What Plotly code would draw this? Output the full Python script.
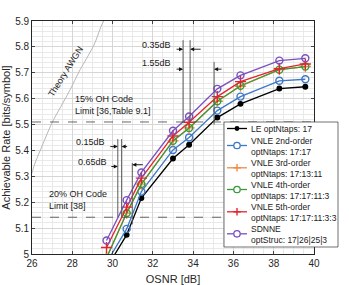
import plotly.graph_objects as go

# ---------------- data ----------------
osnr = [29.7, 30.7, 31.43, 33.0, 33.8, 35.2, 36.35, 38.28, 39.57]
le_rate = [4.946, 5.074, 5.216, 5.369, 5.422, 5.527, 5.580, 5.639, 5.646]
vnle2_rate = [4.966, 5.097, 5.241, 5.402, 5.450, 5.554, 5.608, 5.669, 5.675]
vnle3_rate = [4.985, 5.158, 5.270, 5.437, 5.487, 5.590, 5.648, 5.712, 5.724]
vnle4_rate = [4.985, 5.158, 5.270, 5.437, 5.487, 5.590, 5.650, 5.712, 5.724]
vnle5_rate = [5.025, 5.181, 5.293, 5.456, 5.509, 5.608, 5.666, 5.716, 5.734]
sdnne_rate = [5.052, 5.208, 5.315, 5.476, 5.531, 5.638, 5.690, 5.747, 5.756]

awgn_osnr = [25.6, 25.99, 26.15, 26.56, 26.98, 27.43, 27.89, 28.38, 29.04, 29.58, 30.2]
awgn_rate = [5.22, 5.312, 5.351, 5.428, 5.505, 5.569, 5.634, 5.711, 5.801, 5.904, 5.97]

oh15_limit = 5.51
oh20_limit = 5.142

x_ticks = [26, 28, 30, 32, 34, 36, 38, 40]
y_ticks = [5.0, 5.1, 5.2, 5.3, 5.4, 5.5, 5.6, 5.7, 5.8, 5.9]
y_tick_labels = ["5", "5.1", "5.2", "5.3", "5.4", "5.5", "5.6", "5.7", "5.8", "5.9"]

series_names = [
    "LE optNtaps: 17",
    "VNLE 2nd-order<br>optNtaps: 17:17",
    "VNLE 3rd-order<br>optNtaps: 17:13:11",
    "VNLE 4th-order<br>optNtaps: 17:17:11:3",
    "VNLE 5th-order<br>optNtaps: 17:17:11:3:3",
    "SDNNE<br>optStruc: 17|26|25|3",
]

FONT = "Liberation Sans, Arial, sans-serif"
W, H = 349, 285
ML, MR, MT, MB = 32, 35, 21, 31
PW, PH = W - ML - MR, H - MT - MB


def px2paper(px, py):
    return (px - ML) / PW, (H - MB - py) / PH


fig = go.Figure()

# theory curve
fig.add_trace(go.Scatter(x=awgn_osnr, y=awgn_rate, mode="lines",
                         line=dict(color="#b8b8b8", width=1, shape="spline"),
                         showlegend=False, hoverinfo="skip"))

shapes = []
# limit lines
for lim in (oh15_limit, oh20_limit):
    shapes.append(dict(type="line", xref="x", yref="y", x0=26, x1=40, y0=lim, y1=lim,
                       line=dict(color="#404040", width=0.8, dash="dash"), layer="above"))

# dB gap marker lines
vlines = [(33.5, 5.826, oh15_limit), (33.85, 5.826, oh15_limit), (35.04, 5.742, 5.50),
          (30.26, 5.444, oh20_limit), (30.45, 5.444, oh20_limit), (30.98, 5.352, 5.115)]
for xv, y0, y1 in vlines:
    shapes.append(dict(type="line", xref="x", yref="y", x0=xv, x1=xv, y0=y0, y1=y1,
                       line=dict(color="#5a5a5a", width=1), layer="above"))

styles = [
    dict(color="#000000", symbol="circle", size=4.5, kind="dot"),
    dict(color="#3b78c9", symbol="circle-open", size=7, kind="ring"),
    dict(color="#ef8b45", symbol="cross-thin-open", size=8, kind="plus"),
    dict(color="#3a9a3a", symbol="circle-open", size=7, kind="ring"),
    dict(color="#e3242b", symbol="cross-thin-open", size=8, kind="plus"),
    dict(color="#7a4fc0", symbol="circle-open", size=7, kind="ring"),
]
values = [le_rate, vnle2_rate, vnle3_rate, vnle4_rate, vnle5_rate, sdnne_rate]
for i in range(6):
    s = styles[i]
    fig.add_trace(go.Scatter(
        x=osnr, y=values[i], mode="lines+markers", name=series_names[i].replace("<br>", " "),
        showlegend=False,
        line=dict(color=s["color"], width=1.3),
        marker=dict(symbol=s["symbol"], size=s["size"], color=s["color"],
                    line=dict(color=s["color"], width=1.4)),
        cliponaxis=True,
    ))

ann_font = dict(family=FONT, size=9, color="#1a1a1a")
annotations = [
    dict(x=27.7, y=5.705, text="Theory AWGN", textangle=-58, showarrow=False,
         font=ann_font),
    dict(x=28.02, y=5.525, text="15% OH Code<br>Limit [36,Table 9.1]", showarrow=False,
         xanchor="left", yanchor="bottom", align="left", font=ann_font),
    dict(x=26.73, y=5.158, text="20% OH Code<br>Limit [38]", showarrow=False,
         xanchor="left", yanchor="bottom", align="left", font=ann_font),
    dict(x=33.0, y=5.808, text="0.35dB", showarrow=False, xanchor="right", font=ann_font),
    dict(x=33.0, y=5.737, text="1.55dB", showarrow=False, xanchor="right", font=ann_font),
    dict(x=29.71, y=5.433, text="0.15dB", showarrow=False, xanchor="right", font=ann_font),
    dict(x=29.84, y=5.357, text="0.65dB", showarrow=False, xanchor="right", font=ann_font),
]
arrows = [(33.5, 5.791, -8), (33.85, 5.791, 12), (33.5, 5.714, -8), (35.04, 5.714, 9),
          (30.26, 5.415, -9), (30.45, 5.415, 7), (30.26, 5.338, -8), (30.98, 5.345, 12)]
for xa, ya, dx in arrows:
    annotations.append(dict(x=xa, y=ya, xref="x", yref="y", text="", showarrow=True,
                            ax=dx, ay=0, arrowhead=2, arrowsize=0.9, arrowwidth=0.9,
                            arrowcolor="#111111", standoff=0))

# ---------------- legend box (drawn manually, Matlab style) ----------------
lx0, ly0 = px2paper(224, 122)
lx1, ly1 = px2paper(338, 247)
shapes.append(dict(type="rect", xref="paper", yref="paper", x0=lx0, x1=lx1, y0=ly1, y1=ly0,
                   fillcolor="white", line=dict(color="#333333", width=0.7), layer="above"))
entry_text_y = [128.5, 146.5, 168.3, 190.0, 212.3, 234.5]
entry_sym_y = [128.5, 145.5, 167.8, 189.5, 211.8, 233.8]
for i, s in enumerate(styles):
    ty = entry_text_y[i]
    sy = entry_sym_y[i]
    xa, ya = px2paper(227, sy)
    xb, _ = px2paper(247, sy)
    shapes.append(dict(type="line", xref="paper", yref="paper", x0=xa, x1=xb, y0=ya, y1=ya,
                       line=dict(color=s["color"], width=1.3), layer="above"))
    cx, cy = px2paper(237, sy)
    if s["kind"] in ("dot", "ring"):
        r = 1.8 if s["kind"] == "dot" else 3.2
        shapes.append(dict(type="circle", xref="paper", yref="paper",
                           x0=cx - r / PW, x1=cx + r / PW, y0=cy - r / PH, y1=cy + r / PH,
                           fillcolor=s["color"] if s["kind"] == "dot" else "white",
                           line=dict(color=s["color"], width=1.3), layer="above"))
    else:
        r = 3.8
        shapes.append(dict(type="line", xref="paper", yref="paper",
                           x0=cx - r / PW, x1=cx + r / PW, y0=cy, y1=cy,
                           line=dict(color=s["color"], width=1.4), layer="above"))
        shapes.append(dict(type="line", xref="paper", yref="paper",
                           x0=cx, x1=cx, y0=cy - r / PH, y1=cy + r / PH,
                           line=dict(color=s["color"], width=1.4), layer="above"))
    tx, tyy = px2paper(249, ty)
    annotations.append(dict(x=tx, y=tyy, xref="paper", yref="paper", text=series_names[i],
                            showarrow=False, xanchor="left", yanchor="middle", align="left",
                            font=dict(family=FONT, size=8.5, color="#1a1a1a")))

fig.update_layout(
    width=W, height=H,
    margin=dict(l=ML, r=MR, t=MT, b=MB),
    paper_bgcolor="white", plot_bgcolor="white",
    font=dict(family=FONT, size=10, color="#262626"),
    annotations=annotations,
    shapes=shapes,
    showlegend=False,
)
fig.update_xaxes(range=[26, 40], tickvals=x_ticks, ticks="inside", ticklen=3,
                 automargin=False,
                 showline=True, linecolor="#262626", linewidth=0.8, mirror="ticks",
                 showgrid=True, gridcolor="#d6d6d6", gridwidth=0.6,
                 minor=dict(dtick=0.5, showgrid=True, gridcolor="#e9e9e9", gridwidth=0.5),
                 zeroline=False, title=dict(text="OSNR [dB]", font=dict(size=11)),
                 tickfont=dict(size=10))
fig.update_yaxes(range=[5, 5.9], tickvals=y_ticks, ticktext=y_tick_labels,
                 ticks="inside", ticklen=3, automargin=False,
                 showline=True, linecolor="#262626", linewidth=0.8, mirror="ticks",
                 showgrid=True, gridcolor="#d6d6d6", gridwidth=0.6,
                 minor=dict(dtick=0.02, showgrid=True, gridcolor="#e9e9e9", gridwidth=0.5),
                 zeroline=False, title=dict(text="Achievable Rate [bits/symbol]",
                                            font=dict(size=11)),
                 tickfont=dict(size=10))

fig.write_html("out.html", config={"displayModeBar": False},
               post_script="document.body.style.margin='0';")
